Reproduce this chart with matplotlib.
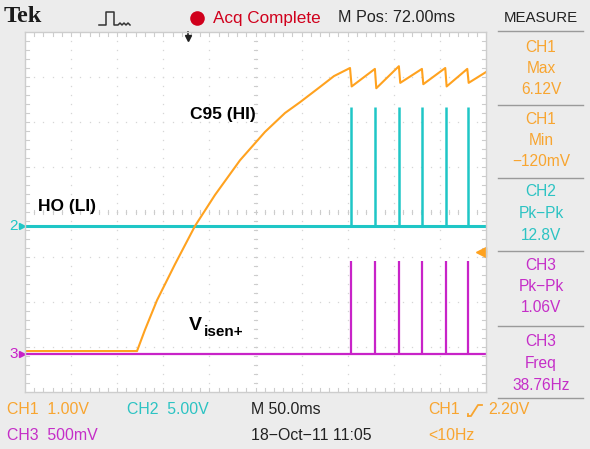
import matplotlib.pyplot as plt
from matplotlib import font_manager
from matplotlib.lines import Line2D

# scope settings
ms_per_div = 50.0
ch1_scale, ch2_scale, ch3_scale = 1.0, 5.0, 0.5      # V/div
ch1_offset, ch2_offset, ch3_offset = -3.09, -0.31, -3.16  # div

# CH1 (orange) - C95 charging then sawtooth
ch1_t = [0, 121.5, 130.1, 143.2, 162.7, 184.4, 206.1, 233.2, 260.3, 282.0, 298.3,
         320.0, 335.1, 352.5, 354.3, 379.5, 381.0, 405.5, 407.0, 430.5, 432.0,
         455.8, 457.3, 479.7, 481.2, 500]
ch1_v = [0, 0, 0.47, 1.13, 1.93, 2.78, 3.47, 4.24, 4.87, 5.29, 5.53,
         5.87, 6.11, 6.29, 5.88, 6.27, 5.84, 6.33, 5.96, 6.27, 5.93,
         6.29, 5.88, 6.27, 5.96, 6.20]

# pulse times (ms from left edge) for CH2 and CH3
pulse_t = [353.3, 380.0, 406.0, 431.0, 456.3, 480.2]
ch2_pk = 13.2
ch3_pk = 1.04

trig_t = 176.8
trig_level = 2.20

meas_labels = [("CH1", "Max", "6.12V"), ("CH1", "Min", "\u2212120mV"),
               ("CH2", "Pk\u2212Pk", "12.8V"), ("CH3", "Pk\u2212Pk", "1.06V"),
               ("CH3", "Freq", "38.76Hz")]

ORANGE = "#FFA21F"
CYAN = "#1FC6C6"
MAGENTA = "#C823C8"
T_ORANGE = "#F8A530"
T_CYAN = "#2CC3C3"
T_MAGENTA = "#C52EC8"
GRID = "#CDCDCD"
DOTS = "#D6D6D6"

names = {f.name for f in font_manager.fontManager.ttflist}
FONT = "Liberation Sans" if "Liberation Sans" in names else "DejaVu Sans"
plt.rcParams['font.family'] = [FONT, 'DejaVu Sans']

W, H = 590, 449
fig = plt.figure(figsize=(W / 100, H / 100), dpi=100, facecolor="#ECECEC")


def fx(x):
    return x / W


def fy(y):
    return 1 - y / H


def ftext(x, y, s, **kw):
    kw.setdefault("va", "center")
    fig.text(fx(x), fy(y), s, **kw)


# graticule
ax = fig.add_axes([fx(25), fy(392), 461 / W, 360 / H])
ax.set_facecolor("white")
ax.set_xlim(0, 10 * ms_per_div)
ax.set_ylim(-4, 4)
ax.set_xticks([])
ax.set_yticks([])
for sp in ax.spines.values():
    sp.set_color(GRID)
    sp.set_linewidth(1)

mx = [i * ms_per_div / 5 for i in range(1, 50)]
my = [-4 + i * 0.2 for i in range(1, 40)]
# dotted grid lines
for k in range(1, 10):
    ax.plot([k * ms_per_div] * len(my), my, ls="none", marker="s", ms=0.9,
            color=DOTS, mew=0)
for k in range(-3, 4):
    ax.plot(mx, [k] * len(mx), ls="none", marker="s", ms=0.9, color=DOTS, mew=0)
# center cross and border ticks
tx, ty = 4.3, 0.09
for x in mx:
    ax.plot([x, x], [-ty * 0.5, ty * 0.5], color=GRID, lw=0.8)
    ax.plot([x, x], [4, 4 - ty], color=GRID, lw=0.8)
    ax.plot([x, x], [-4, -4 + ty], color=GRID, lw=0.8)
for y in my:
    ax.plot([250 - tx * 0.5, 250 + tx * 0.5], [y, y], color=GRID, lw=0.8)
    ax.plot([0, tx], [y, y], color=GRID, lw=0.8)
    ax.plot([500, 500 - tx], [y, y], color=GRID, lw=0.8)

# traces
ax.plot([0, 500], [ch3_offset, ch3_offset], color=MAGENTA, lw=1.6)
ax.vlines(pulse_t, ch3_offset, ch3_offset + ch3_pk / ch3_scale, color=MAGENTA, lw=1.6)
ax.plot([0, 500], [ch2_offset, ch2_offset], color=CYAN, lw=2.2)
ax.vlines(pulse_t, ch2_offset, ch2_offset + ch2_pk / ch2_scale, color=CYAN, lw=1.8)
ax.plot(ch1_t, [ch1_offset + v / ch1_scale for v in ch1_v], color=ORANGE, lw=1.5)

# channel markers
ax.text(-8, ch2_offset, "2", color=CYAN, ha="right", va="center", fontsize=11,
        clip_on=False)
ax.plot([-3.5], [ch2_offset], marker=">", color=CYAN, ms=4.5, clip_on=False)
ax.text(-8, ch3_offset, "3", color=MAGENTA, ha="right", va="center", fontsize=11,
        clip_on=False)
ax.plot([-3.5], [ch3_offset], marker=">", color=MAGENTA, ms=4.5, clip_on=False)

# trigger markers
trig_y = ch1_offset + trig_level / ch1_scale
ax.plot([495], [trig_y], marker="<", color=ORANGE, ms=7, clip_on=False)
ax.plot([495, 500], [trig_y, trig_y], color=ORANGE, lw=1.5, clip_on=False)
ax.plot([trig_t], [3.86], marker="v", color="#222222", ms=5, clip_on=False)
ax.plot([trig_t, trig_t], [3.86, 4.0], color="#222222", lw=1.2, clip_on=False)

# trace labels
ftext(190, 115, "C95 (HI)", fontsize=12.5, fontweight="bold", ha="left")
ftext(38, 207, "HO (LI)", fontsize=12.5, fontweight="bold", ha="left")
ftext(189, 325, "V", fontsize=14, fontweight="bold", ha="left")
ftext(204, 332, "isen+", fontsize=11, fontweight="bold", ha="left")

# top bar
ftext(4, 16, "Tek", fontsize=17.5, fontweight="bold", family="Liberation Serif",
      ha="left", color="#1A1A1A")
fig.add_artist(Line2D([fx(v) for v in (99, 106, 106, 114, 114, 118, 120, 122, 124, 126, 128, 130)],
                      [fy(v) for v in (25, 25, 12, 12, 25, 25, 23, 25, 23, 25, 23, 25)],
                      color="#333333", lw=1.1))
fig.add_artist(Line2D([fx(197)], [fy(18)], marker="o", ms=10.5, color="#D0001C",
                      mew=0))
ftext(213, 18, "Acq Complete", fontsize=12.3, color="#D0001C", ha="left")
ftext(338, 18, "M Pos: 72.00ms", fontsize=11.6, color="#222222", ha="left")
ftext(541, 18, "MEASURE", fontsize=10.8, color="#222222", ha="center")

# measure panel
for y in (31, 105, 178, 251, 326, 398):
    fig.add_artist(Line2D([fx(498), fx(583)], [fy(y), fy(y)], color="#9A9A9A", lw=1))
block_y = [47, 119, 192, 265, 342]
block_c = [T_ORANGE, T_ORANGE, T_CYAN, T_MAGENTA, T_MAGENTA]
for (a, b, c), y0, col in zip(meas_labels, block_y, block_c):
    ftext(541, y0, a, fontsize=11.2, color=col, ha="center")
    ftext(541, y0 + 21.5, b, fontsize=11.2, color=col, ha="center")
    ftext(541, y0 + 43, c, fontsize=11.2, color=col, ha="center")

# bottom bar
ftext(7, 410, "CH1  1.00V", fontsize=11.4, color=T_ORANGE, ha="left")
ftext(127, 410, "CH2  5.00V", fontsize=11.4, color=T_CYAN, ha="left")
ftext(251, 410, "M 50.0ms", fontsize=11.4, color="#222222", ha="left")
ftext(428, 410, "CH1", fontsize=11.4, color=T_ORANGE, ha="left")
fig.add_artist(Line2D([fx(v) for v in (468, 471, 478, 482)],
                      [fy(v) for v in (416, 416, 405, 405)],
                      color=T_ORANGE, lw=1.3))
fig.add_artist(Line2D([fx(468), fx(468)], [fy(416), fy(414)], color=T_ORANGE, lw=1.3))
ftext(488, 410, "2.20V", fontsize=11.4, color=T_ORANGE, ha="left")
ftext(7, 436, "CH3  500mV", fontsize=11.4, color=T_MAGENTA, ha="left")
ftext(251, 436, "18\u2212Oct\u221211 11:05", fontsize=11.4, color="#222222", ha="left")
ftext(428, 436, "<10Hz", fontsize=11.4, color=T_ORANGE, ha="left")

fig.savefig("out.png", dpi=100, facecolor=fig.get_facecolor())
